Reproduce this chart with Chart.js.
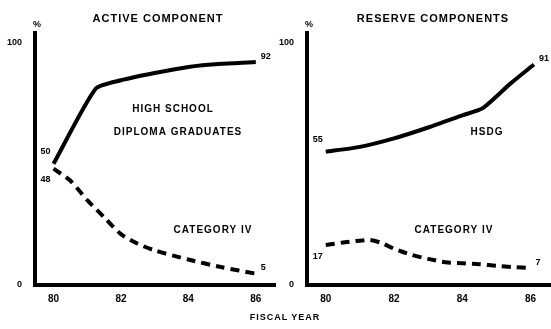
<!DOCTYPE html>
<html>
<head>
<meta charset="utf-8">
<script src="https://cdn.jsdelivr.net/npm/chart.js@4.4.0/dist/chart.umd.min.js"></script>
<style>
  html, body { margin: 0; padding: 0; background: #fff; width: 551px; height: 329px; overflow: hidden; }
  canvas { position: absolute; top: 0; }
  #left { left: 0; }
  #right { left: 276px; }
  #xlabel { position: absolute; left: 243px; top: 312px; width: 84px; text-align: center;
    font: bold 9px "Liberation Sans", Arial, sans-serif; letter-spacing: 1px; color: #000; }
</style>
</head>
<body>
<canvas id="left" width="276" height="329"></canvas>
<canvas id="right" width="275" height="329"></canvas>
<div id="xlabel">FISCAL YEAR</div>
<script>
// tick labels
const tickYears = [80, 82, 84, 86];
const yTicks = [0, 100];

// active component
const activeHsdgYears = [80, 81.25, 82, 83, 84, 85, 86];
const activeHsdg = [50, 81, 84.5, 87.5, 90, 91.3, 92];
const activeCat4Years = [80, 80.5, 81, 81.5, 82, 82.5, 83, 84, 85, 86];
const activeCat4 = [48, 43, 35, 28, 21, 17, 14.3, 10.5, 7.3, 4.7];

// reserve components
const reserveHsdgYears = [80, 81, 82, 83, 84, 84.6, 85.4, 86.1];
const reserveHsdg = [55, 57, 60.5, 65, 70, 73, 83, 91];
const reserveCat4Years = [80, 80.5, 81, 81.3, 81.6, 82, 82.5, 83, 83.5, 84, 84.5, 85, 85.5, 86];
const reserveCat4 = [16.5, 17.5, 18.3, 18.6, 17.5, 15, 12.5, 10.8, 9.4, 9, 8.6, 7.9, 7.4, 7];

const FONT = '"Liberation Sans", Arial, sans-serif';

function pts(xs, ys) {
  return xs.map((x, i) => ({ x: x, y: ys[i] }));
}

// draws the titles, the labels in the plot and the start/end values
const notes = {
  id: 'notes',
  afterDraw(chart, args, o) {
    const ctx = chart.ctx, x = chart.scales.x, y = chart.scales.y;
    ctx.save();
    ctx.fillStyle = '#000';
    ctx.textBaseline = 'middle';
    ctx.textAlign = 'center';
    ctx.letterSpacing = '1px';
    ctx.font = 'bold 11px ' + FONT;
    ctx.fillText(o.title, o.titleX, 19);

    ctx.font = 'bold 10px ' + FONT;
    o.texts.forEach(t => ctx.fillText(t[0], t[1], t[2]));

    ctx.letterSpacing = '0px';
    ctx.font = 'bold 9px ' + FONT;
    ctx.fillText('%', chart.chartArea.left + 2, 25);

    chart.data.datasets.forEach(ds => {
      const first = ds.data[0], last = ds.data[ds.data.length - 1];
      ctx.textAlign = 'right';
      ctx.fillText(Math.round(first.y), x.getPixelForValue(first.x) - 3, y.getPixelForValue(first.y) + ds.startOff);
      ctx.textAlign = 'left';
      ctx.fillText(Math.round(last.y), x.getPixelForValue(last.x) + 5, y.getPixelForValue(last.y) - 6);
    });
    ctx.restore();
  }
};

function makeChart(id, yWidth, hsdg, cat4, title, titleX, texts) {
  new Chart(document.getElementById(id), {
    type: 'line',
    data: {
      datasets: [
        {
          label: 'HSDG',
          data: hsdg,
          borderColor: '#000',
          borderWidth: 4,
          pointRadius: 0,
          tension: 0.2,
          startOff: -12
        },
        {
          label: 'CATEGORY IV',
          data: cat4,
          borderColor: '#000',
          borderWidth: 4,
          borderDash: [9, 6],
          pointRadius: 0,
          tension: 0.25,
          startOff: 11
        }
      ]
    },
    options: {
      responsive: false,
      animation: false,
      layout: { padding: { top: 33, right: 0, left: 0, bottom: 0 } },
      plugins: {
        legend: { display: false },
        tooltip: { enabled: false },
        notes: { title: title, titleX: titleX, texts: texts }
      },
      scales: {
        x: {
          type: 'linear',
          min: 79.45,
          max: 86.6,
          grid: { display: false },
          border: { display: true, color: '#000', width: 4 },
          afterBuildTicks: s => { s.ticks = tickYears.map(v => ({ value: v })); },
          afterFit: s => { s.height = 44; },
          ticks: {
            padding: 0,
            maxRotation: 0,
            color: '#000',
            font: { family: FONT, size: 10, weight: 'bold' },
            callback: v => String(v)
          }
        },
        y: {
          min: 0,
          max: 104,
          grid: { display: false },
          border: { display: true, color: '#000', width: 4 },
          afterBuildTicks: s => { s.ticks = yTicks.map(v => ({ value: v })); },
          afterFit: s => { s.width = yWidth; },
          ticks: {
            padding: 5,
            color: '#000',
            font: { family: FONT, size: 9, weight: 'bold' },
            callback: v => String(v)
          }
        }
      }
    },
    plugins: [notes]
  });
}

makeChart('left', 35,
  pts(activeHsdgYears, activeHsdg), pts(activeCat4Years, activeCat4),
  'ACTIVE COMPONENT', 158,
  [['HIGH SCHOOL', 173, 109], ['DIPLOMA GRADUATES', 178, 132], ['CATEGORY IV', 213, 230]]);

makeChart('right', 31,
  pts(reserveHsdgYears, reserveHsdg), pts(reserveCat4Years, reserveCat4),
  'RESERVE COMPONENTS', 157,
  [['HSDG', 211, 132], ['CATEGORY IV', 178, 230]]);
</script>
</body>
</html>
